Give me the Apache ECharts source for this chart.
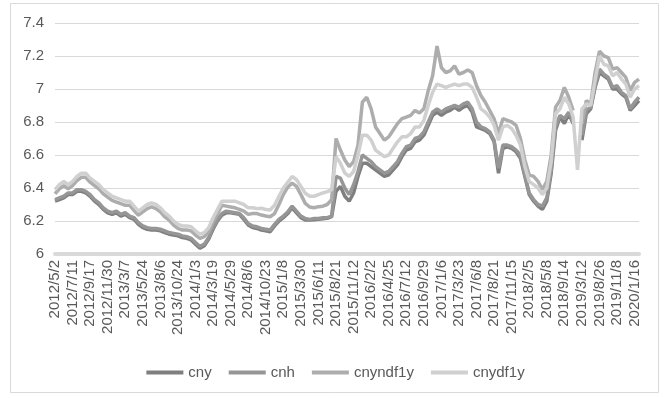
<!DOCTYPE html>
<html>
<head>
<meta charset="utf-8">
<script src="https://cdn.jsdelivr.net/npm/echarts@6/dist/echarts.min.js"></script>
<style>html,body{margin:0;padding:0;background:#fff;}#c{width:671px;height:398px;}</style>
</head>
<body>
<div id="c"></div>
<script>
// Tick labels shown on the category axis (every 4th category)
const tickLabels = ['2012/5/2','2012/7/11','2012/9/17','2012/11/30','2013/3/7','2013/5/24','2013/8/6','2013/10/24','2014/1/3','2014/3/19','2014/5/29','2014/8/6','2014/10/23','2015/1/8','2015/3/30','2015/6/11','2015/8/21','2015/11/12','2016/2/2','2016/4/25','2016/7/12','2016/9/29','2017/1/6','2017/3/23','2017/6/8','2017/8/21','2017/11/15','2018/2/5','2018/5/8','2018/9/14','2019/3/12','2019/8/26','2019/11/8','2020/1/16'];

const cny = [6.32,6.33,6.34,6.36,6.36,6.38,6.38,6.37,6.35,6.32,6.30,6.27,6.25,6.24,6.25,6.23,6.24,6.22,6.21,6.18,6.16,6.15,6.145,6.145,6.14,6.13,6.12,6.115,6.11,6.10,6.095,6.085,6.06,6.035,6.05,6.09,6.15,6.20,6.235,6.25,6.25,6.245,6.24,6.21,
6.176,6.16,6.155,6.145,6.14,6.135,6.17,6.20,6.22,6.245,6.28,6.25,6.22,6.206,6.206,6.207,6.21,6.214,6.216,6.226,
6.38,6.41,6.35,6.32,6.37,6.47,6.55,6.55,6.53,6.51,6.49,6.47,6.48,6.51,6.54,6.59,6.63,6.64,6.68,6.69,6.72,6.78,6.84,6.86,6.84,6.86,6.87,6.89,6.87,6.89,6.90,6.86,6.77,6.76,6.75,6.73,6.68,6.49,6.64,6.65,6.64,6.62,6.58,6.47,6.36,6.32,6.29,6.27,6.32,6.49,6.75,6.83,6.79,6.85,6.79,null,6.69,6.85,6.88,7.01,7.10,7.08,7.06,7.00,7.00,6.97,6.95,6.87,6.90,6.93];

const cnh = [6.33,6.34,6.35,6.37,6.37,6.39,6.39,6.38,6.36,6.33,6.31,6.28,6.26,6.25,6.26,6.24,6.25,6.23,6.22,6.19,6.17,6.16,6.155,6.155,6.15,6.14,6.13,6.125,6.12,6.11,6.105,6.095,6.07,6.045,6.06,6.10,6.16,6.21,6.245,6.26,6.255,6.25,6.245,6.22,
6.185,6.17,6.165,6.155,6.15,6.145,6.18,6.21,6.23,6.255,6.29,6.26,6.23,6.215,6.21,6.215,6.215,6.22,6.22,6.23,
6.47,6.46,6.40,6.36,6.42,6.50,6.60,6.58,6.56,6.53,6.51,6.49,6.50,6.53,6.56,6.61,6.65,6.66,6.70,6.71,6.74,6.80,6.86,6.88,6.86,6.88,6.89,6.90,6.89,6.91,6.92,6.88,6.80,6.77,6.76,6.74,6.69,6.52,6.66,6.66,6.65,6.63,6.60,6.48,6.37,6.33,6.30,6.29,6.34,6.51,6.77,6.84,6.82,6.86,6.80,null,6.72,6.87,6.89,7.02,7.12,7.09,7.07,7.01,7.02,6.98,6.96,6.88,6.92,6.95];

const cnyndf1y = [6.365,6.395,6.415,6.395,6.415,6.445,6.465,6.465,6.435,6.415,6.395,6.365,6.345,6.325,6.315,6.305,6.295,6.295,6.265,6.235,6.255,6.275,6.285,6.275,6.255,6.225,6.205,6.175,6.155,6.145,6.145,6.14,6.115,6.095,6.105,6.135,6.195,6.245,6.295,6.29,6.285,6.28,6.27,6.26,
6.24,6.245,6.245,6.236,6.23,6.226,6.245,6.30,6.36,6.405,6.43,6.41,6.36,6.307,6.285,6.28,6.287,6.29,6.30,6.33,
6.70,6.63,6.57,6.53,6.56,6.66,6.92,6.95,6.88,6.77,6.73,6.69,6.71,6.75,6.79,6.82,6.83,6.84,6.87,6.855,6.88,6.99,7.08,7.26,7.13,7.10,7.11,7.14,7.09,7.10,7.115,7.10,7.02,6.96,6.92,6.87,6.82,6.73,6.82,6.81,6.80,6.78,6.70,6.57,6.48,6.47,6.44,6.39,6.44,6.60,6.89,6.93,7.01,6.95,6.87,null,6.79,6.93,6.91,7.10,7.23,7.20,7.19,7.12,7.13,7.10,7.07,6.99,7.04,7.06];

const cnydf1y = [6.39,6.42,6.44,6.42,6.44,6.47,6.49,6.49,6.46,6.44,6.42,6.39,6.37,6.35,6.34,6.33,6.32,6.32,6.29,6.26,6.28,6.30,6.31,6.30,6.28,6.25,6.23,6.20,6.18,6.17,6.17,6.165,6.14,6.12,6.13,6.16,6.22,6.27,6.32,6.32,6.32,6.32,6.31,6.30,
6.28,6.28,6.275,6.277,6.27,6.267,6.295,6.35,6.40,6.435,6.47,6.45,6.41,6.368,6.35,6.35,6.36,6.37,6.378,6.39,
6.59,6.55,6.49,6.47,6.50,6.60,6.72,6.72,6.69,6.63,6.61,6.59,6.60,6.64,6.68,6.71,6.71,6.73,6.77,6.77,6.81,6.90,6.98,7.03,7.02,7.01,7.02,7.03,7.02,7.03,7.03,7.01,6.95,6.88,6.86,6.83,6.78,6.69,6.77,6.78,6.76,6.72,6.66,6.53,6.44,6.42,6.40,6.36,6.40,6.56,6.85,6.88,6.95,6.91,6.83,6.51,6.88,6.91,6.90,7.05,7.20,7.15,7.14,7.08,7.10,7.06,7.03,6.95,7.00,7.02];

// Category list: each tick label followed by unlabeled in-between observations
const STEP = 4;
const categories = [];
for (let i = 0; i < cny.length; i++) {
  const j = Math.floor(i / STEP), k = i % STEP;
  const base = tickLabels[Math.min(j, tickLabels.length - 1)];
  categories.push(k === 0 && j < tickLabels.length ? base : base + '#' + (i - j * STEP));
}

const txt = '#595959';
const font = 'Liberation Sans, Arial, sans-serif';
const chart = echarts.init(document.getElementById('c'), null, {renderer: 'canvas'});
const mk = (name, data, color) => ({
  name, type: 'line', data, symbol: 'none', showSymbol: false,
  lineStyle: {color, width: 3.5}, itemStyle: {color}, animation: false
});
chart.setOption({
  animation: false,
  backgroundColor: '#fff',
  graphic: [{type: 'rect', shape: {x: 10.5, y: 3.5, width: 648, height: 389},
    style: {fill: 'none', stroke: '#d9d9d9', lineWidth: 1}, z: -1}],
  grid: {left: 55, right: 32, top: 23, bottom: 144, containLabel: false, outerBoundsMode: 'none'},
  legend: {
    top: 360, left: 'center', icon: 'rect', itemWidth: 37, itemHeight: 4, itemGap: 17,
    textStyle: {color: txt, fontSize: 15, fontFamily: font},
    data: ['cny', 'cnh', 'cnyndf1y', 'cnydf1y']
  },
  xAxis: {
    type: 'category', data: categories, boundaryGap: false,
    axisLine: {lineStyle: {color: '#d9d9d9', width: 4}},
    axisTick: {show: false},
    axisLabel: {interval: STEP - 1, rotate: 90, margin: 6, color: txt, fontSize: 15, fontFamily: font,
      formatter: v => v.indexOf('#') >= 0 ? '' : v}
  },
  yAxis: {
    type: 'value', min: 6, max: 7.4, interval: 0.2,
    axisLine: {show: false}, axisTick: {show: false},
    axisLabel: {color: txt, fontSize: 15, fontFamily: font, margin: 11},
    splitLine: {lineStyle: {color: '#d9d9d9', width: 1}}
  },
  series: [
    mk('cny', cny, '#7f7f7f'),
    mk('cnh', cnh, '#969696'),
    mk('cnyndf1y', cnyndf1y, '#adadad'),
    mk('cnydf1y', cnydf1y, '#d0d0d0')
  ]
});
</script>
</body>
</html>
